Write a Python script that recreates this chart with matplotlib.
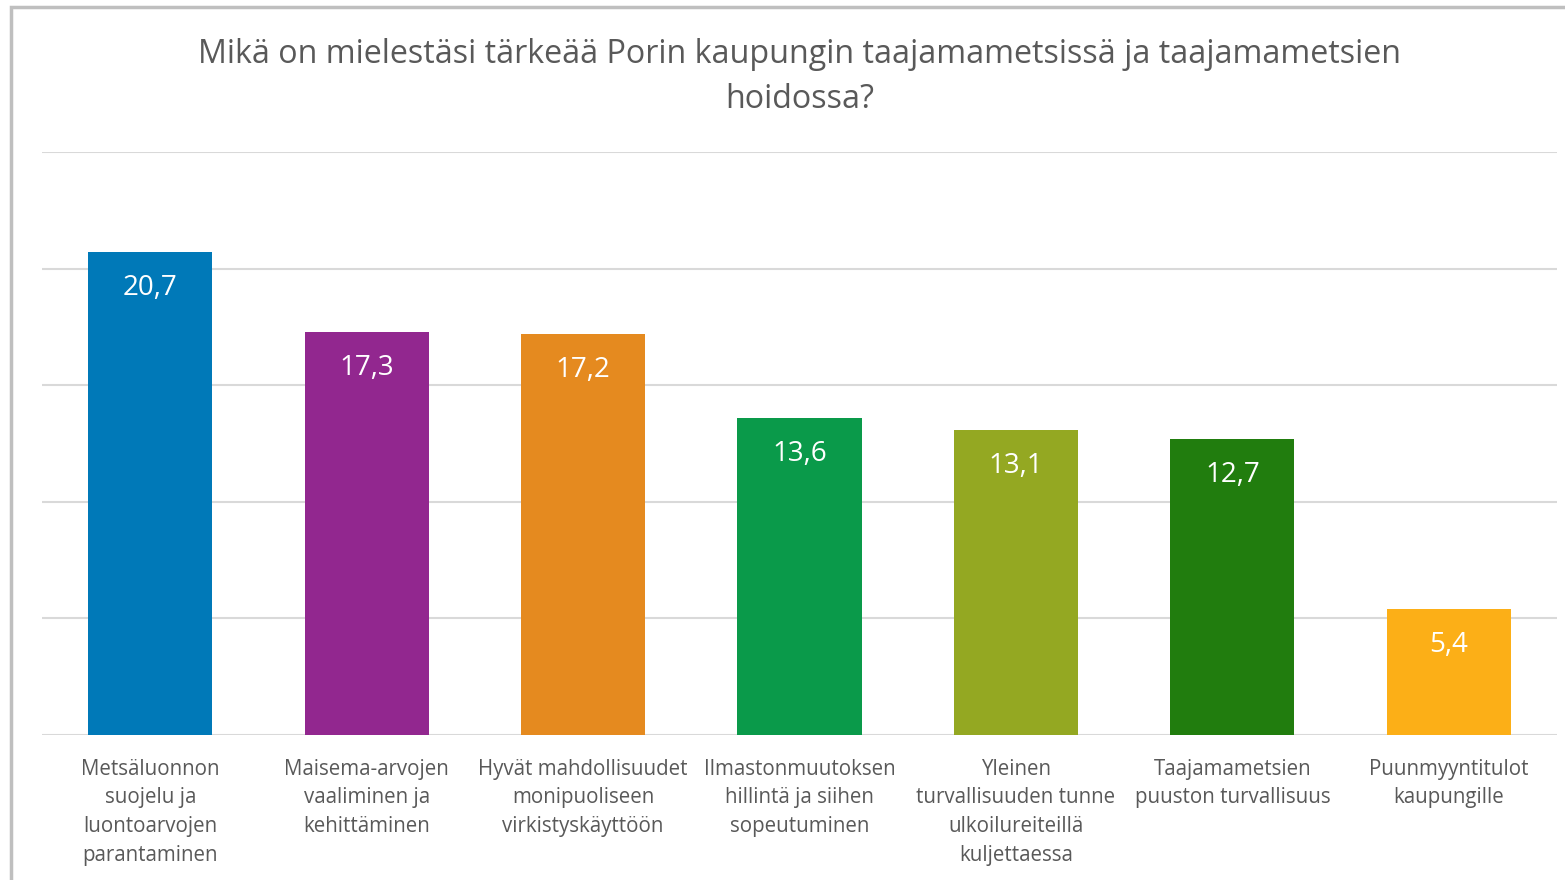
import matplotlib
matplotlib.use("Agg")
import matplotlib.pyplot as plt
from matplotlib.patches import Rectangle

categories = [
    "Metsäluonnon\nsuojelu ja\nluontoarvojen\nparantaminen",
    "Maisema-arvojen\nvaaliminen ja\nkehittäminen",
    "Hyvät mahdollisuudet\nmonipuoliseen\nvirkistyskäyttöön",
    "Ilmastonmuutoksen\nhillintä ja siihen\nsopeutuminen",
    "Yleinen\nturvallisuuden tunne\nulkoilureiteillä\nkuljettaessa",
    "Taajamametsien\npuuston turvallisuus",
    "Puunmyyntitulot\nkaupungille",
]
values = [20.7, 17.3, 17.2, 13.6, 13.1, 12.7, 5.4]
labels = ["20,7", "17,3", "17,2", "13,6", "13,1", "12,7", "5,4"]
colors = ["#0079B8", "#92278F", "#E58A1F", "#0A9A4A", "#94A822", "#217D0E", "#FCAF17"]
title = "Mikä on mielestäsi tärkeää Porin kaupungin taajamametsissä ja taajamametsien\nhoidossa?"

plt.rcParams['font.family'] = ['Open Sans', 'DejaVu Sans']

W, H = 1565, 880
fig = plt.figure(figsize=(W/100, H/100), dpi=100)
ax = fig.add_axes([42/W, 1-735/H, (1557-42)/W, (735-152)/H])

x = range(len(values))
bars = ax.bar(x, values, width=0.573, color=colors, zorder=3)
ax.set_xlim(-0.5, len(values)-0.5)
ax.set_ylim(0, 25)
ax.set_yticks([0, 5, 10, 15, 20, 25])
ax.yaxis.grid(True, color="#D9D9D9", linewidth=1.5, zorder=0)
ax.tick_params(axis='y', left=False, labelleft=False)
ax.tick_params(axis='x', bottom=False, pad=13.5)
ax.set_xticks(list(x))
ax.set_xticklabels(categories, fontsize=14.8, color="#595959", linespacing=1.48)
for s in ax.spines.values():
    s.set_visible(False)

for xi, v, lab in zip(x, values, labels):
    ax.annotate(lab, (xi, v), xytext=(0, -36), textcoords="offset pixels",
                ha="center", va="center", color="white", fontsize=20)

fig.text(800/W, 1-77/H, title, ha="center", va="center", fontsize=23.2,
         color="#595959", linespacing=1.45)

fig.add_artist(Rectangle((11/W, -0.05), 1.2, 1-7/H+0.05, transform=fig.transFigure,
                         fill=False, edgecolor="#BFBFBF", linewidth=2.5))

fig.savefig("out.png", dpi=100, facecolor="white")
